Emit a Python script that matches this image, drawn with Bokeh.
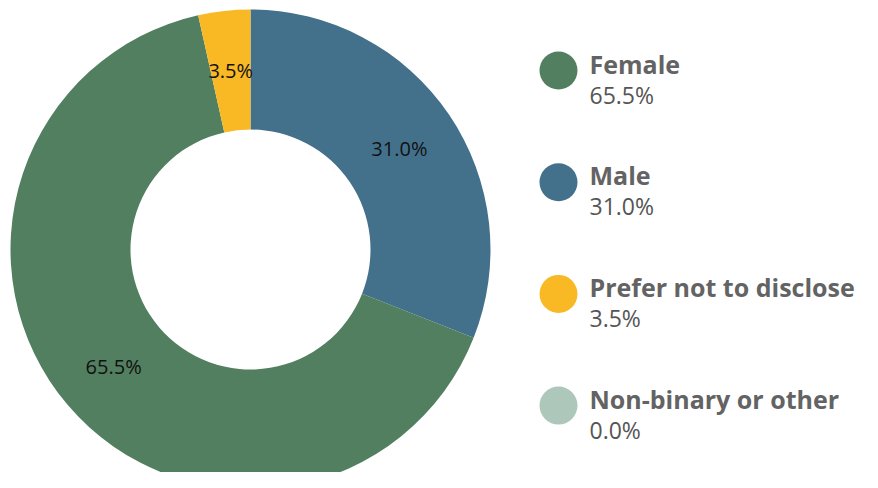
import math
from bokeh.plotting import figure
from bokeh.models import Range1d, ColumnDataSource
from bokeh.core.properties import value
from bokeh.embed import file_html
from bokeh.resources import INLINE

# Data (in drawing order, clockwise from top)
slice_names = ["Male", "Female", "Prefer not to disclose", "Non-binary or other"]
slice_values = [31.0, 65.5, 3.5, 0.0]
slice_colors = ["#43718c", "#527f60", "#f8b924", "#adc8bb"]

# Legend order
legend_names = ["Female", "Male", "Prefer not to disclose", "Non-binary or other"]
legend_values = [65.5, 31.0, 3.5, 0.0]
legend_colors = ["#527f60", "#43718c", "#f8b924", "#adc8bb"]

W, H = 862, 472
p = figure(width=W, height=H, output_backend="svg", toolbar_location=None,
           x_range=Range1d(0, W), y_range=Range1d(0, H), min_border=0)
p.axis.visible = False
p.grid.visible = False
p.outline_line_color = None
p.background_fill_color = "white"

cx, cy = 250, H - 249
R_out, R_in = 240, 120

total = sum(slice_values)
starts, ends, lx, ly, labels, cols = [], [], [], [], [], []
acc = 0.0
for n, v, c in zip(slice_names, slice_values, slice_colors):
    if v <= 0:
        continue
    a0 = math.pi / 2 - 2 * math.pi * acc / total
    a1 = math.pi / 2 - 2 * math.pi * (acc + v) / total
    starts.append(a0)
    ends.append(a1)
    cols.append(c)
    mid = (a0 + a1) / 2
    rl = (R_out + R_in) / 2
    lx.append(cx + rl * math.cos(mid))
    ly.append(cy + rl * math.sin(mid))
    labels.append(f"{v:.1f}%")
    acc += v

src = ColumnDataSource(dict(x=[cx] * len(starts), y=[cy] * len(starts),
                            s=starts, e=ends, c=cols))
p.annular_wedge(x="x", y="y", inner_radius=R_in, outer_radius=R_out,
                start_angle="s", end_angle="e", direction="clock",
                fill_color="c", line_color=None, source=src)

p.text(x=lx, y=ly, text=labels, text_align="center", text_baseline="middle",
       text_font=value("Open Sans"), text_font_size="20px", text_color="#111111")

# Legend
leg_x = 558
leg_y0 = H - 70
step = 111.7
for i, (n, v, c) in enumerate(zip(legend_names, legend_values, legend_colors)):
    y = leg_y0 - i * step
    p.scatter(x=[leg_x], y=[y], size=38, marker="circle", fill_color=c, line_color=None)
    p.text(x=[leg_x + 31], y=[y + 7], text=[n], text_align="left", text_baseline="middle",
           text_font=value("Open Sans"), text_font_style="bold", text_font_size="25px",
           text_color="#636363")
    p.text(x=[leg_x + 31], y=[y - 24], text=[f"{v:.1f}%"], text_align="left",
           text_baseline="middle", text_font=value("Open Sans"), text_font_size="23px",
           text_color="#555555")

open("out.html", "w").write(file_html(p, INLINE))
